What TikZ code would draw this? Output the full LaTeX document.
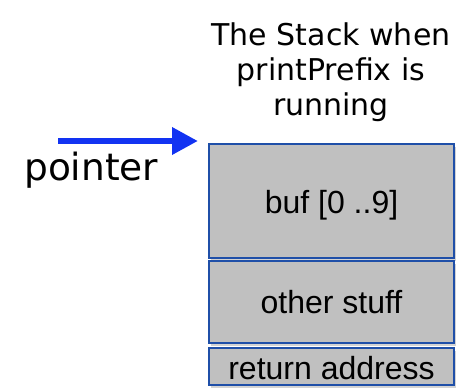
\documentclass[tikz,border=0pt]{standalone}
\usepackage{fontspec}
\setmainfont{Liberation Sans}
\newfontfamily\titlefont{DejaVu Sans}
\usetikzlibrary{arrows.meta,shadows}
\definecolor{boxfill}{HTML}{C0C0C0}
\definecolor{boxedge}{HTML}{1F4FA8}
\definecolor{ptrblue}{HTML}{1233F2}
\tikzset{
  slot/.style={draw=boxedge, line width=1.6pt, fill=boxfill, minimum width=245pt, inner sep=0pt,
    drop shadow={shadow xshift=2pt, shadow yshift=-3pt, opacity=0.35}},
  slottext/.style={font=\fontsize{32}{36}\selectfont},
}
\begin{document}
\begin{tikzpicture}[x=1pt,y=-1pt]
\useasboundingbox (0,0) rectangle (466,390);
\node[slot, minimum height=114pt] (buf) at (331.5,201) {};
\node[slot, minimum height=82pt] (other) at (331.5,302) {};
\node[slot, minimum height=37pt] (ret) at (331.5,366.5) {};
\node[slottext] (buftext) at (331.5,205) {buf [0 ..9]};
\node[slottext] (othertext) at (331.5,302) {other stuff};
\node[slottext] (rettext) at (331.5,368) {return address};
\node[font=\titlefont\fontsize{30}{35}\selectfont, align=center] (title) at (331,72) {The Stack when\\printPrefix is\\running};
\node[font=\titlefont\fontsize{37.5}{40}\selectfont, anchor=west, inner sep=0pt] (ptr) at (24,170) {pointer};
\coordinate (ptrstart) at (58,141);
\coordinate (ptrend) at (198,141);
\draw[ptrblue, line width=6.5pt, -{Triangle[length=26pt,width=26pt]}] (ptrstart) -- (ptrend);
\end{tikzpicture}
\end{document}
